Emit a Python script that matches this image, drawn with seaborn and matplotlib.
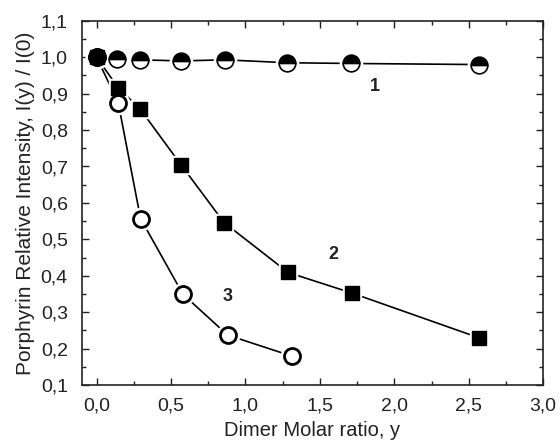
import matplotlib
matplotlib.use("Agg")
import matplotlib.pyplot as plt
from matplotlib.ticker import MultipleLocator, FuncFormatter
import seaborn as sns
import pandas as pd

# data
x1 = [0.0, 0.14, 0.29, 0.57, 0.86, 1.28, 1.71, 2.57]
y1 = [1.0, 0.995, 0.993, 0.99, 0.993, 0.985, 0.983, 0.98]

x2 = [0.0, 0.145, 0.29, 0.57, 0.856, 1.286, 1.718, 2.572]
y2 = [1.0, 0.916, 0.859, 0.703, 0.546, 0.409, 0.352, 0.229]

x3 = [0.0, 0.145, 0.295, 0.58, 0.88, 1.313]
y3 = [1.0, 0.875, 0.557, 0.349, 0.237, 0.179]

labels = ["1", "2", "3"]
label_pos = [(1.87, 0.92), (1.59, 0.459), (0.88, 0.344)]

sns.set_style("ticks")
plt.rcParams['font.family'] = ['Liberation Sans', 'DejaVu Sans']

fig = plt.figure(figsize=(5.6, 4.44), dpi=100)
ax = fig.add_axes([0.146, 0.133, 0.824, 0.820])

# connecting lines
for xs, ys in [(x1, y1), (x2, y2), (x3, y3)]:
    df = pd.DataFrame({"x": xs, "y": ys})
    sns.lineplot(data=df, x="x", y="y", sort=False, color="black", lw=1.2, ax=ax, zorder=1)

# white halos so lines stop short of the markers
ax.plot(x1, y1, ls="none", marker="o", ms=16, mfc="white", mec="white", zorder=2)
ax.plot(x2, y2, ls="none", marker="s", ms=13, mfc="white", mec="white", zorder=2)
ax.plot(x3, y3, ls="none", marker="o", ms=16, mfc="white", mec="white", zorder=2)

# markers
ax.plot(x3, y3, ls="none", marker="o", ms=11.5, mfc="white", mec="black", mew=2.0, zorder=3)
ax.plot(x1, y1, ls="none", marker="o", ms=12, fillstyle="top", mfc="black",
        mfcalt="white", mec="black", mew=1.2, zorder=4)
ax.plot(x1[:1], y1[:1], ls="none", marker="o", ms=12, mfc="black", mec="black", zorder=5)
ax.plot(x2, y2, ls="none", marker="s", ms=9.5, mfc="black", mec="black", zorder=6)

for t, (tx, ty) in zip(labels, label_pos):
    ax.text(tx, ty, t, fontsize=13, fontweight="bold", ha="center", va="center", color="#222222")

ax.set_xlim(-0.1, 3.0)
ax.set_ylim(0.1, 1.1)
ax.xaxis.set_major_locator(MultipleLocator(0.5))
ax.xaxis.set_minor_locator(MultipleLocator(0.25))
ax.yaxis.set_major_locator(MultipleLocator(0.1))
ax.yaxis.set_minor_locator(MultipleLocator(0.05))
fmt = FuncFormatter(lambda v, p: f"{v:.1f}".replace(".", ","))
ax.xaxis.set_major_formatter(fmt)
ax.yaxis.set_major_formatter(fmt)

ax.tick_params(which="both", direction="in", top=True, right=True, width=1.0, color="#222222")
ax.tick_params(which="major", length=5, labelsize=14, labelcolor="#222222")
ax.tick_params(axis="x", which="major", pad=9)
ax.tick_params(axis="y", which="major", pad=10)
ax.tick_params(which="minor", length=3)
for s in ax.spines.values():
    s.set_linewidth(1.2)
    s.set_color("#222222")

ax.set_xlabel("Dimer Molar ratio, y", fontsize=14.5, color="#222222", labelpad=5)
ax.set_ylabel("Porphyrin Relative Intensity, I(y) / I(0)", fontsize=15, color="#222222", labelpad=4)

fig.savefig("out.png", dpi=100)
